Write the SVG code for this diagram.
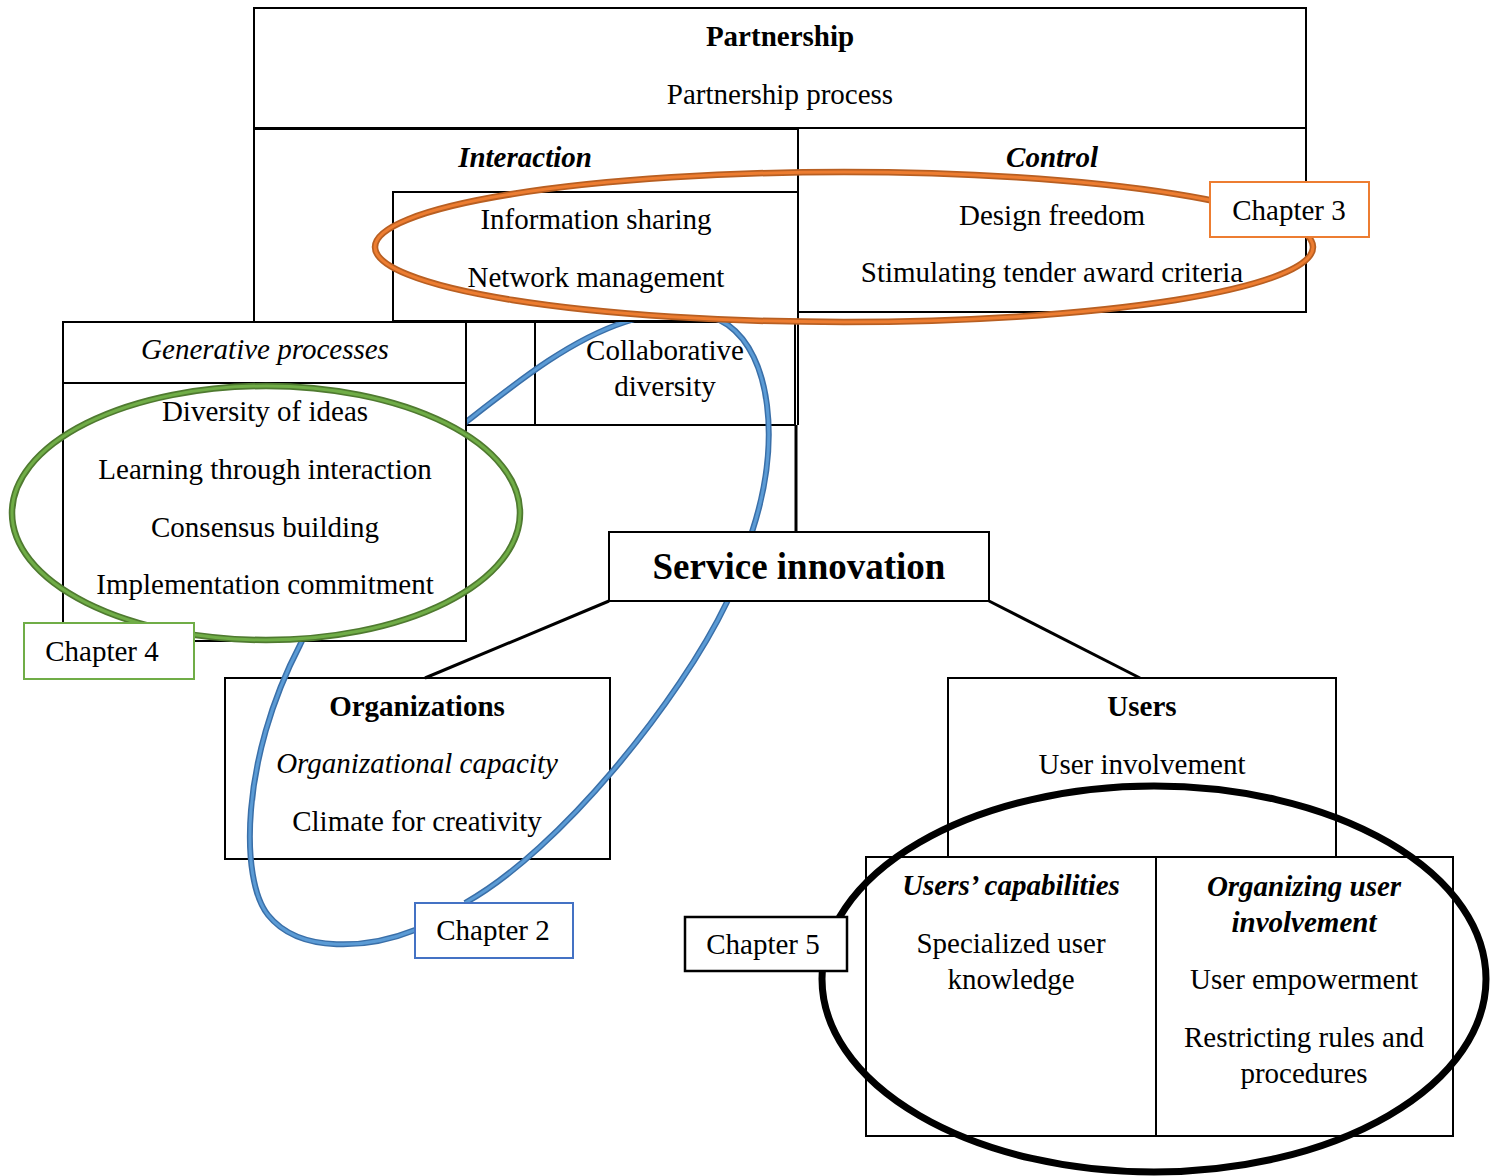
<svg xmlns="http://www.w3.org/2000/svg" width="1495" height="1176" viewBox="0 0 1495 1176">
  <defs>
    <style>
      .box { fill: #ffffff; stroke: #000000; stroke-width: 2; }
      .open { fill: none; stroke: #000000; stroke-width: 2; }
      .t { font-family: "Liberation Serif", "Times New Roman", serif; font-size: 29px; fill: #000000; text-anchor: middle; }
      .b { font-weight: bold; }
      .i { font-style: italic; }
      .conn { stroke: #000000; stroke-width: 3; fill: none; }
      .hl { fill: none; }
    </style>
  </defs>

  <rect width="1495" height="1176" fill="#ffffff"/>

  <!-- Partnership frame -->
  <g id="partnership">
    <rect class="box" x="254" y="8" width="1052" height="120"/>
    <text class="t b" x="780" y="46">Partnership</text>
    <text class="t" x="780" y="104">Partnership process</text>
  </g>

  <g id="control">
    <rect class="box" x="798" y="128" width="508" height="184"/>
    <text class="t b i" x="1052" y="167">Control</text>
    <text class="t" x="1052" y="225">Design freedom</text>
    <text class="t" x="1052" y="282">Stimulating tender award criteria</text>
  </g>

  <g id="interaction">
    <rect class="box" x="254" y="129" width="544" height="193"/>
    <text class="t b i" x="525" y="167">Interaction</text>
  </g>

  <g id="collaborative-diversity">
    <line class="open" x1="798" y1="312" x2="798" y2="425"/>
    <rect class="open" x="466" y="322" width="69" height="103"/>
    <rect class="open" x="535" y="322" width="260" height="103"/>
    <text class="t" x="665" y="360">Collaborative</text>
    <text class="t" x="665" y="396">diversity</text>
  </g>

  <g id="organizations">
    <rect class="box" x="225" y="678" width="385" height="181"/>
    <text class="t b" x="417" y="716">Organizations</text>
    <text class="t i" x="417" y="773">Organizational capacity</text>
    <text class="t" x="417" y="831">Climate for creativity</text>
  </g>

  <g id="users">
    <rect class="box" x="948" y="678" width="388" height="179"/>
    <text class="t b" x="1142" y="716">Users</text>
    <text class="t" x="1142" y="774">User involvement</text>
  </g>

  <g id="user-involvement">
    <rect class="box" x="866" y="857" width="290" height="279"/>
    <rect class="box" x="1156" y="857" width="297" height="279"/>
    <text class="t b i" x="1011" y="895">Users’ capabilities</text>
    <text class="t" x="1011" y="953">Specialized user</text>
    <text class="t" x="1011" y="989">knowledge</text>
    <text class="t b i" x="1304" y="896">Organizing user</text>
    <text class="t b i" x="1304" y="932">involvement</text>
    <text class="t" x="1304" y="989">User empowerment</text>
    <text class="t" x="1304" y="1047">Restricting rules and</text>
    <text class="t" x="1304" y="1083">procedures</text>
  </g>

  <!-- Connectors -->
  <g id="connectors">
    <line class="conn" x1="796" y1="425" x2="796" y2="532"/>
    <line class="conn" x1="609" y1="601" x2="425" y2="678"/>
    <line class="conn" x1="989" y1="601" x2="1140" y2="678"/>
  </g>

  <!-- Chapter 2 loop runs beneath the boxes it passes behind -->
  <g id="loop-chapter2" class="hl">
    <path d="M 415 930 C 370 948, 300 955, 268 915 C 240 880, 240 760, 300 645 C 340 560, 400 470, 466 422 C 520 380, 570 340, 625 322 C 665 308, 705 310, 728 325 C 770 355, 782 440, 752 532 C 740 570, 735 585, 727 602 C 680 700, 560 850, 465 903" stroke="#3A6FA8" stroke-width="6"/>
    <path d="M 415 930 C 370 948, 300 955, 268 915 C 240 880, 240 760, 300 645 C 340 560, 400 470, 466 422 C 520 380, 570 340, 625 322 C 665 308, 705 310, 728 325 C 770 355, 782 440, 752 532 C 740 570, 735 585, 727 602 C 680 700, 560 850, 465 903" stroke="#5B9BD5" stroke-width="3"/>
  </g>

  <g id="generative-processes">
    <rect class="box" x="63" y="322" width="403" height="319"/>
    <line class="open" x1="63" y1="383" x2="466" y2="383"/>
    <text class="t i" x="265" y="359">Generative processes</text>
    <text class="t" x="265" y="421">Diversity of ideas</text>
    <text class="t" x="265" y="479">Learning through interaction</text>
    <text class="t" x="265" y="537">Consensus building</text>
    <text class="t" x="265" y="594">Implementation commitment</text>
  </g>

  <g id="interaction-items">
    <rect class="box" x="393" y="192" width="405" height="129"/>
    <text class="t" x="596" y="229">Information sharing</text>
    <text class="t" x="596" y="287">Network management</text>
  </g>

  <g id="service-innovation">
    <rect class="box" x="609" y="532" width="380" height="69"/>
    <text class="t b" x="799" y="579" style="font-size:37px">Service innovation</text>
  </g>

  <!-- Chapter outlines -->
  <g id="loop-chapter3" class="hl">
    <ellipse cx="844" cy="247" rx="469" ry="75" stroke="#B85F22" stroke-width="6.5"/>
    <ellipse cx="844" cy="247" rx="469" ry="75" stroke="#ED7D31" stroke-width="3"/>
  </g>
  <g id="loop-chapter4" class="hl">
    <ellipse cx="266" cy="513" rx="254" ry="127" stroke="#4F7A30" stroke-width="6.5"/>
    <ellipse cx="266" cy="513" rx="254" ry="127" stroke="#70AD47" stroke-width="3"/>
  </g>
  <g id="loop-chapter5" class="hl">
    <ellipse cx="1154" cy="979" rx="332" ry="193" stroke="#000000" stroke-width="7"/>
  </g>

  <!-- Chapter labels -->
  <g id="chapter3">
    <rect x="1210" y="182" width="159" height="55" fill="#ffffff" stroke="#ED7D31" stroke-width="2"/>
    <text class="t" x="1289" y="220">Chapter 3</text>
  </g>
  <g id="chapter4">
    <rect x="24" y="623" width="170" height="56" fill="#ffffff" stroke="#70AD47" stroke-width="2"/>
    <text class="t" x="102" y="661">Chapter 4</text>
  </g>
  <g id="chapter2">
    <rect x="415" y="903" width="158" height="55" fill="#ffffff" stroke="#4472C4" stroke-width="2"/>
    <text class="t" x="493" y="940">Chapter 2</text>
  </g>
  <g id="chapter5">
    <rect x="685" y="917" width="162" height="54" fill="#ffffff" stroke="#000000" stroke-width="2.5"/>
    <text class="t" x="763" y="954">Chapter 5</text>
  </g>
</svg>
